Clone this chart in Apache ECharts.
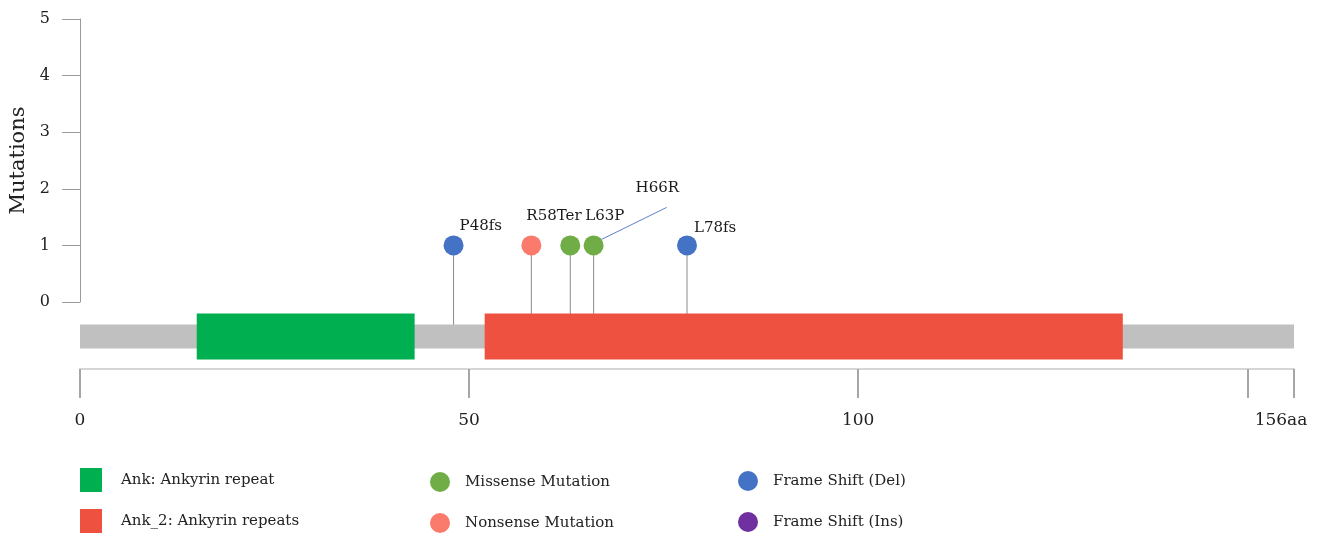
<!DOCTYPE html>
<html>
<head>
<meta charset="utf-8">
<title>Protein mutation lollipop plot</title>
<script src="https://cdn.jsdelivr.net/npm/echarts@6/dist/echarts.min.js"></script>
<style>
  html, body { margin: 0; padding: 0; background: #fff; }
  #chart { width: 1337px; height: 534px; }
</style>
</head>
<body>
<div id="chart"></div>
<script>
// ---- data ----
const proteinLength = 156;

const domainNames  = ['Ank: Ankyrin repeat', 'Ank_2: Ankyrin repeats'];
const domainStarts = [15, 52];
const domainEnds   = [43, 134];

const mutationNames     = ['P48fs', 'R58Ter', 'L63P', 'H66R', 'L78fs'];
const mutationPositions = [48, 58, 63, 66, 78];
const mutationCounts    = [1, 1, 1, 1, 1];
const mutationTypes     = ['Frame Shift (Del)', 'Nonsense Mutation', 'Missense Mutation',
                           'Missense Mutation', 'Frame Shift (Del)'];

const mutationTypeNames = ['Missense Mutation', 'Nonsense Mutation', 'Frame Shift (Del)', 'Frame Shift (Ins)'];

const yTickValues = [0, 1, 2, 3, 4, 5];
const xLabelValues = [0, 50, 100, 156];
const xTickValues = [0, 50, 100, 150, 156];

// ---- styling ----
const FONT = '"DejaVu Serif", "Liberation Serif", serif';
const domainColors = { 'Ank: Ankyrin repeat': '#00b050', 'Ank_2: Ankyrin repeats': '#ef5140' };
const typeColors = {
  'Missense Mutation': '#70ad47',
  'Nonsense Mutation': '#fa7a6c',
  'Frame Shift (Del)': '#4472c4',
  'Frame Shift (Ins)': '#7030a0'
};
// label placement around each lollipop head (pixels from the head centre)
const LABEL_NUDGE = {
  'P48fs':  { dx: 6,  dy: -19 },
  'R58Ter': { dx: -5, dy: -29 },
  'L63P':   { dx: 15, dy: -29 },
  'H66R':   { dx: 42, dy: -57, line: [8, -6, 73, -38] },
  'L78fs':  { dx: 7,  dy: -17 }
};
const HEAD_R = 10;
const STEM_EXTRA = 34;      // stem runs below the plot floor into the track
const BACKBONE_H = 24;
const DOMAIN_H = 46;

const chart = echarts.init(document.getElementById('chart'), null, { renderer: 'canvas' });

function trackRect(params, api, h, color) {
  const a = api.coord([api.value(0), 0]);
  const b = api.coord([api.value(1), 0]);
  return {
    type: 'rect',
    shape: { x: a[0], y: a[1] - h / 2, width: b[0] - a[0], height: h },
    style: { fill: color }
  };
}

const series = [];

// protein backbone
series.push({
  type: 'custom',
  name: 'backbone',
  xAxisIndex: 1, yAxisIndex: 1,
  z: 3,
  silent: true,
  data: [[0, proteinLength]],
  renderItem: (params, api) => trackRect(params, api, BACKBONE_H, '#c0c0c0')
});

// domains
domainNames.forEach((name, i) => {
  series.push({
    type: 'custom',
    name: name,
    xAxisIndex: 1, yAxisIndex: 1,
    z: 4,
    itemStyle: { color: domainColors[name] },
    data: [[domainStarts[i], domainEnds[i]]],
    renderItem: (params, api) => trackRect(params, api, DOMAIN_H, domainColors[name])
  });
});

// lollipop stems
series.push({
  type: 'custom',
  name: 'stems',
  xAxisIndex: 0, yAxisIndex: 0,
  z: 2,
  silent: true,
  data: mutationPositions.map((p, i) => [p, mutationCounts[i]]),
  renderItem: (params, api) => {
    const top = api.coord([api.value(0), api.value(1)]);
    const floor = params.coordSys.y + params.coordSys.height + STEM_EXTRA;
    return {
      type: 'line',
      shape: { x1: top[0], y1: top[1], x2: top[0], y2: floor },
      style: { stroke: '#8c8c8c', lineWidth: 1 }
    };
  }
});

// lollipop heads, one series per mutation type
mutationTypeNames.forEach(type => {
  const color = typeColors[type];
  const data = [];
  mutationPositions.forEach((p, i) => {
    if (mutationTypes[i] === type) data.push([p, mutationCounts[i], i]);
  });
  series.push({
    type: 'custom',
    name: type,
    xAxisIndex: 0, yAxisIndex: 0,
    z: 6,
    itemStyle: { color: color },
    data: data,
    renderItem: (params, api) => {
      const c = api.coord([api.value(0), api.value(1)]);
      const name = mutationNames[api.value(2)];
      const n = LABEL_NUDGE[name] || { dx: 6, dy: -18 };
      const children = [
        { type: 'circle', shape: { cx: c[0], cy: c[1], r: HEAD_R }, style: { fill: color } },
        {
          type: 'text', x: c[0] + n.dx, y: c[1] + n.dy,
          style: { text: name, font: '15px ' + FONT, fill: '#1a1a1a', align: 'left', verticalAlign: 'middle' }
        }
      ];
      if (n.line) {
        children.push({
          type: 'line',
          shape: { x1: c[0] + n.line[0], y1: c[1] + n.line[1], x2: c[0] + n.line[2], y2: c[1] + n.line[3] },
          style: { stroke: '#5b7fcf', lineWidth: 1 }
        });
      }
      return { type: 'group', children };
    }
  });
});

// one legend block per entry, arranged in three columns of two rows
const legendText = { fontFamily: FONT, fontSize: 15, color: '#222' };
const legendSpots = [
  { name: 'Ank: Ankyrin repeat',    left: 80,  top: 468, icon: 'rect',   w: 22, h: 24, pad: 14 },
  { name: 'Ank_2: Ankyrin repeats', left: 80,  top: 509, icon: 'rect',   w: 22, h: 24, pad: 14 },
  { name: 'Missense Mutation',      left: 430, top: 472, icon: 'circle', w: 20, h: 20, pad: 10 },
  { name: 'Nonsense Mutation',      left: 430, top: 513, icon: 'circle', w: 20, h: 20, pad: 10 },
  { name: 'Frame Shift (Del)',      left: 738, top: 471, icon: 'circle', w: 20, h: 20, pad: 10 },
  { name: 'Frame Shift (Ins)',      left: 738, top: 512, icon: 'circle', w: 20, h: 20, pad: 10 }
];
const legends = legendSpots.map(s => ({
  data: [s.name], left: s.left, top: s.top, padding: 0,
  icon: s.icon, itemWidth: s.w, itemHeight: s.h,
  textStyle: Object.assign({ padding: [0, 0, 0, s.pad] }, legendText)
}));

const option = {
  animation: false,
  backgroundColor: '#ffffff',
  grid: [
    { left: 80, right: 43, top: 19, height: 283, containLabel: false, outerBoundsMode: 'none' },
    { left: 80, right: 43, top: 304, height: 65, containLabel: false, outerBoundsMode: 'none' }
  ],
  xAxis: [
    { gridIndex: 0, type: 'value', min: 0, max: proteinLength, show: false },
    {
      gridIndex: 1, type: 'value', min: 0, max: proteinLength, position: 'bottom',
      axisLine: { show: true, onZero: false, lineStyle: { color: '#d6d6d6', width: 2 } },
      axisTick: { show: true, length: 29, customValues: xTickValues, lineStyle: { color: '#a6a6a6', width: 2 } },
      axisLabel: {
        customValues: xLabelValues, margin: 43,
        fontFamily: FONT, fontSize: 17, color: '#222',
        formatter: v => (v === proteinLength ? '{end|' + v + 'aa}' : String(v)),
        rich: { end: { fontFamily: FONT, fontSize: 17, color: '#222', padding: [0, 26, 0, 0] } }
      },
      splitLine: { show: false }
    }
  ],
  yAxis: [
    {
      gridIndex: 0, type: 'value', min: 0, max: 5,
      name: 'Mutations', nameLocation: 'middle', nameGap: 51,
      nameTextStyle: { fontFamily: FONT, fontSize: 21, color: '#222' },
      axisLine: { show: true, onZero: false, lineStyle: { color: '#9a9a9a', width: 1 } },
      axisTick: { show: true, length: 18, customValues: yTickValues, lineStyle: { color: '#9a9a9a' } },
      axisLabel: { customValues: yTickValues, margin: 30, fontFamily: FONT, fontSize: 16, color: '#222' },
      splitLine: { show: false }
    },
    { gridIndex: 1, type: 'value', min: -1, max: 1, show: false }
  ],
  legend: legends,
  series: series
};

chart.setOption(option);
</script>
</body>
</html>
